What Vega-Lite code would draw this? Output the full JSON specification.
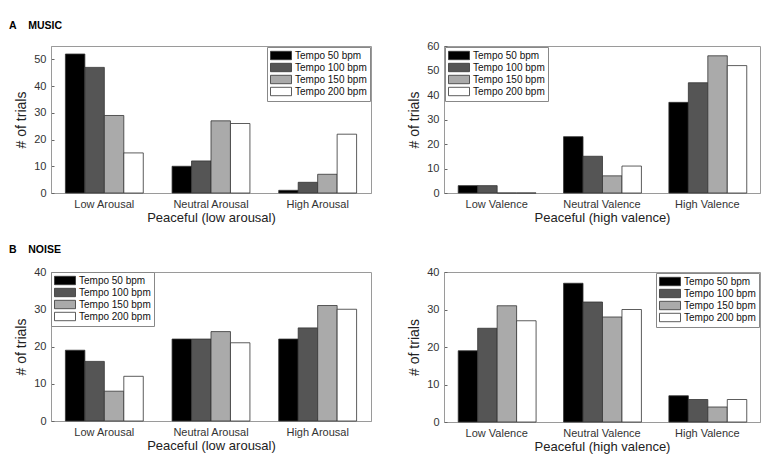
{
  "$schema": "https://vega.github.io/schema/vega-lite/v6.json",
  "background": "white",
  "padding": {"left": 8, "top": 14, "right": 10, "bottom": 10},
  "columns": 2,
  "spacing": {"row": 19, "column": 35},
  "resolve": {"scale": {"fill": "independent"}, "legend": {"fill": "independent"}},
  "config": {
    "font": "Liberation Sans",
    "view": {"stroke": "#9a9a9a", "strokeWidth": 1},
    "axis": {
      "domainColor": "#9a9a9a",
      "tickColor": "#666666",
      "tickSize": -3,
      "grid": false,
      "labelFont": "Liberation Sans",
      "labelFontSize": 11,
      "labelColor": "#333333",
      "titleFont": "Liberation Sans",
      "titleFontSize": 13,
      "titleFontWeight": "normal",
      "titleColor": "#222222"
    },
    "axisX": {"labelPadding": 8.5, "titlePadding": 2, "labelAngle": 0},
    "axisY": {"labelPadding": 8, "titlePadding": 5, "titleFontSize": 14},
    "legend": {
      "title": null,
      "strokeColor": "#888888",
      "fillColor": "white",
      "padding": 3,
      "offset": 1,
      "labelFont": "Liberation Sans",
      "labelFontSize": 10,
      "labelColor": "#111111",
      "labelOffset": 14,
      "rowPadding": -1.8,
      "symbolType": "M-1,-0.84H3.2V0.84H-1Z",
      "symbolSize": 100,
      "symbolStrokeColor": "#333333",
      "symbolStrokeWidth": 0.8
    },
    "title": {"font": "Liberation Sans", "fontSize": 10.5, "fontWeight": "bold", "color": "#000000", "anchor": "start", "frame": "group"}
  },
  "data": {
    "values": [
      {"panel": "TL", "cat": "Low Arousal", "tempo": "Tempo 50 bpm", "n": 52},
      {"panel": "TL", "cat": "Low Arousal", "tempo": "Tempo 100 bpm", "n": 47},
      {"panel": "TL", "cat": "Low Arousal", "tempo": "Tempo 150 bpm", "n": 29},
      {"panel": "TL", "cat": "Low Arousal", "tempo": "Tempo 200 bpm", "n": 15},
      {"panel": "TL", "cat": "Neutral Arousal", "tempo": "Tempo 50 bpm", "n": 10},
      {"panel": "TL", "cat": "Neutral Arousal", "tempo": "Tempo 100 bpm", "n": 12},
      {"panel": "TL", "cat": "Neutral Arousal", "tempo": "Tempo 150 bpm", "n": 27},
      {"panel": "TL", "cat": "Neutral Arousal", "tempo": "Tempo 200 bpm", "n": 26},
      {"panel": "TL", "cat": "High Arousal", "tempo": "Tempo 50 bpm", "n": 1},
      {"panel": "TL", "cat": "High Arousal", "tempo": "Tempo 100 bpm", "n": 4},
      {"panel": "TL", "cat": "High Arousal", "tempo": "Tempo 150 bpm", "n": 7},
      {"panel": "TL", "cat": "High Arousal", "tempo": "Tempo 200 bpm", "n": 22},
      {"panel": "TR", "cat": "Low Valence", "tempo": "Tempo 50 bpm", "n": 3},
      {"panel": "TR", "cat": "Low Valence", "tempo": "Tempo 100 bpm", "n": 3},
      {"panel": "TR", "cat": "Low Valence", "tempo": "Tempo 150 bpm", "n": 0},
      {"panel": "TR", "cat": "Low Valence", "tempo": "Tempo 200 bpm", "n": 0},
      {"panel": "TR", "cat": "Neutral Valence", "tempo": "Tempo 50 bpm", "n": 23},
      {"panel": "TR", "cat": "Neutral Valence", "tempo": "Tempo 100 bpm", "n": 15},
      {"panel": "TR", "cat": "Neutral Valence", "tempo": "Tempo 150 bpm", "n": 7},
      {"panel": "TR", "cat": "Neutral Valence", "tempo": "Tempo 200 bpm", "n": 11},
      {"panel": "TR", "cat": "High Valence", "tempo": "Tempo 50 bpm", "n": 37},
      {"panel": "TR", "cat": "High Valence", "tempo": "Tempo 100 bpm", "n": 45},
      {"panel": "TR", "cat": "High Valence", "tempo": "Tempo 150 bpm", "n": 56},
      {"panel": "TR", "cat": "High Valence", "tempo": "Tempo 200 bpm", "n": 52},
      {"panel": "BL", "cat": "Low Arousal", "tempo": "Tempo 50 bpm", "n": 19},
      {"panel": "BL", "cat": "Low Arousal", "tempo": "Tempo 100 bpm", "n": 16},
      {"panel": "BL", "cat": "Low Arousal", "tempo": "Tempo 150 bpm", "n": 8},
      {"panel": "BL", "cat": "Low Arousal", "tempo": "Tempo 200 bpm", "n": 12},
      {"panel": "BL", "cat": "Neutral Arousal", "tempo": "Tempo 50 bpm", "n": 22},
      {"panel": "BL", "cat": "Neutral Arousal", "tempo": "Tempo 100 bpm", "n": 22},
      {"panel": "BL", "cat": "Neutral Arousal", "tempo": "Tempo 150 bpm", "n": 24},
      {"panel": "BL", "cat": "Neutral Arousal", "tempo": "Tempo 200 bpm", "n": 21},
      {"panel": "BL", "cat": "High Arousal", "tempo": "Tempo 50 bpm", "n": 22},
      {"panel": "BL", "cat": "High Arousal", "tempo": "Tempo 100 bpm", "n": 25},
      {"panel": "BL", "cat": "High Arousal", "tempo": "Tempo 150 bpm", "n": 31},
      {"panel": "BL", "cat": "High Arousal", "tempo": "Tempo 200 bpm", "n": 30},
      {"panel": "BR", "cat": "Low Valence", "tempo": "Tempo 50 bpm", "n": 19},
      {"panel": "BR", "cat": "Low Valence", "tempo": "Tempo 100 bpm", "n": 25},
      {"panel": "BR", "cat": "Low Valence", "tempo": "Tempo 150 bpm", "n": 31},
      {"panel": "BR", "cat": "Low Valence", "tempo": "Tempo 200 bpm", "n": 27},
      {"panel": "BR", "cat": "Neutral Valence", "tempo": "Tempo 50 bpm", "n": 37},
      {"panel": "BR", "cat": "Neutral Valence", "tempo": "Tempo 100 bpm", "n": 32},
      {"panel": "BR", "cat": "Neutral Valence", "tempo": "Tempo 150 bpm", "n": 28},
      {"panel": "BR", "cat": "Neutral Valence", "tempo": "Tempo 200 bpm", "n": 30},
      {"panel": "BR", "cat": "High Valence", "tempo": "Tempo 50 bpm", "n": 7},
      {"panel": "BR", "cat": "High Valence", "tempo": "Tempo 100 bpm", "n": 6},
      {"panel": "BR", "cat": "High Valence", "tempo": "Tempo 150 bpm", "n": 4},
      {"panel": "BR", "cat": "High Valence", "tempo": "Tempo 200 bpm", "n": 6}
    ]
  },
  "concat": [
    {
      "width": 320, "height": 147,
      "title": {"text": "A\u00a0\u00a0\u00a0\u00a0MUSIC", "dx": -42, "offset": 15},
      "transform": [{"filter": "datum.panel === 'TL'"}],
      "mark": {"type": "bar", "stroke": "#333333", "strokeWidth": 0.8},
      "encoding": {
        "x": {"field": "cat", "type": "nominal", "sort": ["Low Arousal", "Neutral Arousal", "High Arousal"], "scale": {"paddingInner": 0.27, "paddingOuter": 0.135}, "axis": {"title": "Peaceful (low arousal)"}},
        "xOffset": {"field": "tempo", "type": "nominal", "sort": ["Tempo 50 bpm", "Tempo 100 bpm", "Tempo 150 bpm", "Tempo 200 bpm"], "scale": {"paddingInner": 0, "paddingOuter": 0}},
        "y": {"field": "n", "type": "quantitative", "scale": {"domain": [0, 55], "nice": false}, "axis": {"title": "# of trials", "values": [0, 10, 20, 30, 40, 50]}},
        "fill": {"field": "tempo", "type": "nominal", "scale": {"domain": ["Tempo 50 bpm", "Tempo 100 bpm", "Tempo 150 bpm", "Tempo 200 bpm"], "range": ["#000000", "#555555", "#aaaaaa", "#ffffff"]}, "legend": {"orient": "top-right"}}
      }
    },
    {
      "width": 316, "height": 147,
      "title": {"text": "\u00a0", "offset": 15},
      "transform": [{"filter": "datum.panel === 'TR'"}],
      "mark": {"type": "bar", "stroke": "#333333", "strokeWidth": 0.8},
      "encoding": {
        "x": {"field": "cat", "type": "nominal", "sort": ["Low Valence", "Neutral Valence", "High Valence"], "scale": {"paddingInner": 0.27, "paddingOuter": 0.135}, "axis": {"title": "Peaceful (high valence)"}},
        "xOffset": {"field": "tempo", "type": "nominal", "sort": ["Tempo 50 bpm", "Tempo 100 bpm", "Tempo 150 bpm", "Tempo 200 bpm"], "scale": {"paddingInner": 0, "paddingOuter": 0}},
        "y": {"field": "n", "type": "quantitative", "scale": {"domain": [0, 60], "nice": false}, "axis": {"title": "# of trials", "values": [0, 10, 20, 30, 40, 50, 60]}},
        "fill": {"field": "tempo", "type": "nominal", "scale": {"domain": ["Tempo 50 bpm", "Tempo 100 bpm", "Tempo 150 bpm", "Tempo 200 bpm"], "range": ["#000000", "#555555", "#aaaaaa", "#ffffff"]}, "legend": {"orient": "top-left", "offset": 1}}
      }
    },
    {
      "width": 320, "height": 149,
      "title": {"text": "B\u00a0\u00a0\u00a0\u00a0NOISE", "dx": -42, "offset": 11},
      "transform": [{"filter": "datum.panel === 'BL'"}],
      "mark": {"type": "bar", "stroke": "#333333", "strokeWidth": 0.8},
      "encoding": {
        "x": {"field": "cat", "type": "nominal", "sort": ["Low Arousal", "Neutral Arousal", "High Arousal"], "scale": {"paddingInner": 0.27, "paddingOuter": 0.135}, "axis": {"title": "Peaceful (low arousal)"}},
        "xOffset": {"field": "tempo", "type": "nominal", "sort": ["Tempo 50 bpm", "Tempo 100 bpm", "Tempo 150 bpm", "Tempo 200 bpm"], "scale": {"paddingInner": 0, "paddingOuter": 0}},
        "y": {"field": "n", "type": "quantitative", "scale": {"domain": [0, 40], "nice": false}, "axis": {"title": "# of trials", "values": [0, 10, 20, 30, 40]}},
        "fill": {"field": "tempo", "type": "nominal", "scale": {"domain": ["Tempo 50 bpm", "Tempo 100 bpm", "Tempo 150 bpm", "Tempo 200 bpm"], "range": ["#000000", "#555555", "#aaaaaa", "#ffffff"]}, "legend": {"orient": "top-left", "offset": 0}}
      }
    },
    {
      "width": 316, "height": 150,
      "title": {"text": "\u00a0", "offset": 11},
      "transform": [{"filter": "datum.panel === 'BR'"}],
      "mark": {"type": "bar", "stroke": "#333333", "strokeWidth": 0.8},
      "encoding": {
        "x": {"field": "cat", "type": "nominal", "sort": ["Low Valence", "Neutral Valence", "High Valence"], "scale": {"paddingInner": 0.27, "paddingOuter": 0.135}, "axis": {"title": "Peaceful (high valence)"}},
        "xOffset": {"field": "tempo", "type": "nominal", "sort": ["Tempo 50 bpm", "Tempo 100 bpm", "Tempo 150 bpm", "Tempo 200 bpm"], "scale": {"paddingInner": 0, "paddingOuter": 0}},
        "y": {"field": "n", "type": "quantitative", "scale": {"domain": [0, 40], "nice": false}, "axis": {"title": "# of trials", "values": [0, 10, 20, 30, 40]}},
        "fill": {"field": "tempo", "type": "nominal", "scale": {"domain": ["Tempo 50 bpm", "Tempo 100 bpm", "Tempo 150 bpm", "Tempo 200 bpm"], "range": ["#000000", "#555555", "#aaaaaa", "#ffffff"]}, "legend": {"orient": "top-right", "offset": 1}}
      }
    }
  ]
}
